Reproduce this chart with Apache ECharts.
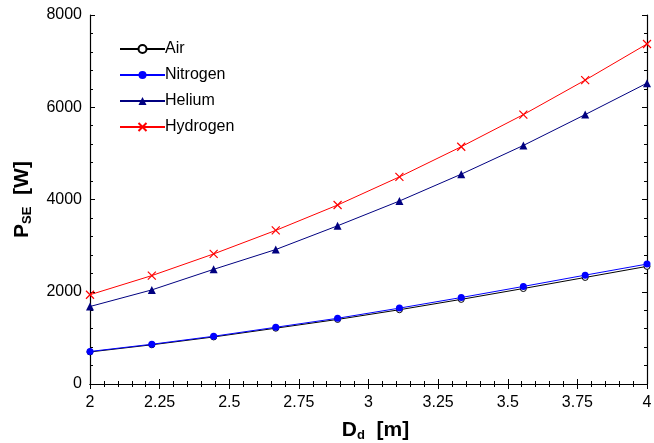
<!DOCTYPE html>
<html><head><meta charset="utf-8">
<script src="https://cdn.jsdelivr.net/npm/echarts@6/dist/echarts.min.js"></script>
<style>html,body{margin:0;padding:0;background:#fff;overflow:hidden}#c{width:654px;height:443px}</style>
</head><body><div id="c"></div>
<script>
const diameters = [2, 2.222, 2.444, 2.667, 2.889, 3.111, 3.333, 3.556, 3.778, 4];
const air      = [695, 850, 1020, 1210, 1400, 1610, 1835, 2070, 2310, 2550];
const nitrogen = [705, 862, 1035, 1230, 1425, 1645, 1875, 2115, 2360, 2600];
const helium   = [1680, 2040, 2486, 2915, 3430, 3967, 4549, 5172, 5841, 6523];
const hydrogen = [1935, 2350, 2820, 3330, 3880, 4490, 5144, 5840, 6588, 7372];
const xTicks = { min: 2, max: 4, interval: 0.25 };
const yTicks = { min: 0, max: 8000, interval: 2000 };

const pair = arr => diameters.map((d, i) => [d, arr[i]]);
const font = 'Liberation Sans, Arial, sans-serif';
const chart = echarts.init(document.getElementById('c'), null, { renderer: 'canvas' });

const baseAxisLine = { show: true, lineStyle: { color: '#000', width: 1.2 } };
const tickIn = { show: true, inside: true, length: 5, lineStyle: { color: '#000' } };
const minorIn = () => ({ show: true, inside: true, splitNumber: 5, length: 3, lineStyle: { color: '#000' } });
const richTitle = {
  b: { fontFamily: font, fontSize: 21, fontWeight: 'bold', color: '#000' },
  s: { fontFamily: font, fontSize: 13, fontWeight: 'bold', color: '#000', verticalAlign: 'bottom', padding: [11, 0, 0, 0] }
};

chart.setOption({
  animation: false,
  grid: { left: 90, right: 7, top: 15, bottom: 59, containLabel: false, outerBoundsMode: 'none' },
  legend: {
    orient: 'vertical', left: 114, top: 36, itemGap: 10, itemWidth: 45, itemHeight: 10,
    textStyle: { fontFamily: font, fontSize: 16, color: '#000', padding: [0, 0, 0, -5] },
    data: ['Air', 'Nitrogen', 'Helium', 'Hydrogen']
  },
  xAxis: [{
    type: 'value', min: xTicks.min, max: xTicks.max, interval: xTicks.interval,
    axisLine: baseAxisLine, axisTick: tickIn,
    minorTick: minorIn(), splitLine: { show: false },
    axisLabel: { fontFamily: font, fontSize: 16, color: '#000', margin: 11 },
    name: '{b|D}{s|d}{b|  [m]}', nameLocation: 'middle', nameGap: 34,
    nameTextStyle: { rich: richTitle, padding: [0, 0, 0, 14] }
  }, {
    type: 'value', position: 'top', min: xTicks.min, max: xTicks.max, interval: xTicks.interval,
    axisLine: baseAxisLine, axisTick: tickIn, minorTick: minorIn(),
    splitLine: { show: false }, axisLabel: { show: false }
  }],
  yAxis: [{
    type: 'value', min: yTicks.min, max: yTicks.max, interval: yTicks.interval,
    axisLine: baseAxisLine, axisTick: tickIn, minorTick: minorIn(),
    splitLine: { show: false },
    axisLabel: { fontFamily: font, fontSize: 16, color: '#000', margin: 8, formatter: v => String(v) },
    name: '{b|P}{s|SE}{b|  [W]}', nameLocation: 'middle', nameGap: 56,
    nameTextStyle: { rich: richTitle }
  }, {
    type: 'value', position: 'right', min: yTicks.min, max: yTicks.max, interval: yTicks.interval,
    axisLine: baseAxisLine, axisTick: tickIn, minorTick: minorIn(),
    splitLine: { show: false }, axisLabel: { show: false }
  }],
  series: [
    { name: 'Air', type: 'line', data: pair(air), symbol: 'circle', symbolSize: 6,
      lineStyle: { color: '#000', width: 1 },
      itemStyle: { color: '#fff', borderColor: '#000', borderWidth: 1 }, z: 2 },
    { name: 'Nitrogen', type: 'line', data: pair(nitrogen), symbol: 'circle', symbolSize: 7,
      lineStyle: { color: '#0000ff', width: 1 },
      itemStyle: { color: '#0000ff', borderColor: '#0000ff', borderWidth: 0 }, z: 3 },
    { name: 'Helium', type: 'line', data: pair(helium), symbol: 'triangle', symbolSize: 8,
      lineStyle: { color: '#000080', width: 1 },
      itemStyle: { color: '#000080', borderColor: '#000080', borderWidth: 0 }, z: 3 },
    { name: 'Hydrogen', type: 'line', data: pair(hydrogen), symbol: 'path://M0,0L10,10M10,0L0,10', symbolSize: 8,
      lineStyle: { color: '#ff0000', width: 1 },
      itemStyle: { color: 'none', borderColor: '#ff0000', borderWidth: 1.2 }, z: 3 }
  ]
});
</script></body></html>
